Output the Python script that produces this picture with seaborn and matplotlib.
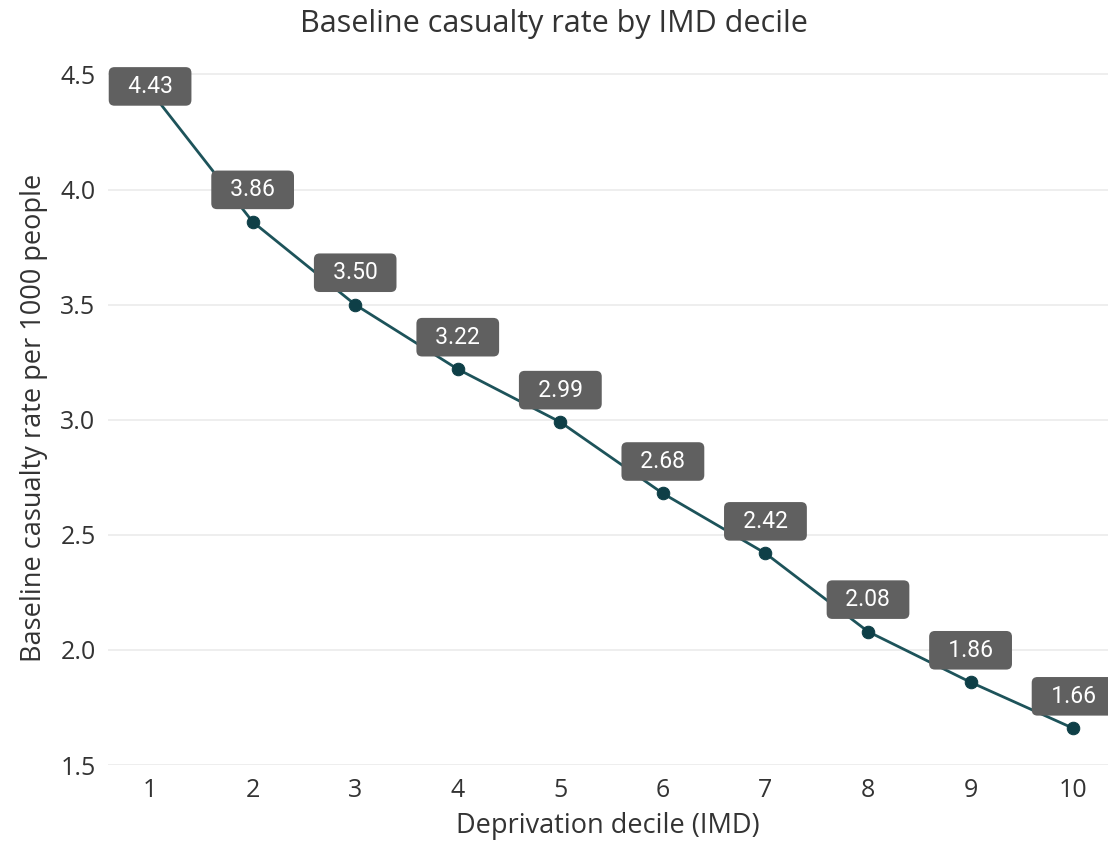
import matplotlib
matplotlib.use("Agg")
import matplotlib.pyplot as plt
import seaborn as sns
import pandas as pd

deciles = [1, 2, 3, 4, 5, 6, 7, 8, 9, 10]
rates = [4.43, 3.86, 3.50, 3.22, 2.99, 2.68, 2.42, 2.08, 1.86, 1.66]
y_ticks = [1.5, 2.0, 2.5, 3.0, 3.5, 4.0, 4.5]

df = pd.DataFrame({"decile": deciles, "rate": rates})

sns.set_theme(style="white")
plt.rcParams["font.family"] = ["Open Sans", "DejaVu Sans"]

text_color = "#333333"
line_color = "#1d535a"
marker_color = "#0e3f47"

fig = plt.figure(figsize=(11.08, 8.52), dpi=100)
ax = fig.add_axes([0.0975, 0.102, 0.9025, 0.816])

sns.lineplot(data=df, x="decile", y="rate", ax=ax, color=line_color,
             linewidth=2.0, marker="o", markersize=9,
             markerfacecolor=marker_color, markeredgecolor=marker_color)

ax.set_xlim(0.59, 10.34)
ax.set_ylim(1.5, 4.52)
ax.set_yticks(y_ticks)
ax.set_yticklabels([f"{t:.1f}" for t in y_ticks])
ax.set_xticks(deciles)
ax.set_xticklabels([str(d) for d in deciles])
ax.tick_params(axis="both", labelsize=18, colors=text_color, length=0, pad=9)
ax.yaxis.grid(True, color="#ebebeb", linewidth=1.2)
ax.xaxis.grid(False)
for s in ax.spines.values():
    s.set_visible(False)

ax.set_xlabel("Deprivation decile (IMD)", fontsize=19.5, color=text_color, labelpad=7)
ax.set_ylabel("Baseline casualty rate per 1000 people", fontsize=19.5,
              color=text_color, labelpad=9)
fig.suptitle("Baseline casualty rate by IMD decile", fontsize=22,
             color=text_color, y=0.99)

# value labels above each point; the top one is kept inside the axes
for x, y in zip(deciles, rates):
    dy = 3 if y > 4.3 else 23
    ax.annotate(f"  {y:.2f}  ", xy=(x, y), xytext=(0, dy), textcoords="offset points",
                ha="center", va="center", fontsize=16.5, color="white",
                family=["Roboto", "DejaVu Sans"], fontweight="normal",
                bbox=dict(boxstyle="round,pad=0.34,rounding_size=0.25",
                          fc="#606060", ec="none"),
                zorder=5)

fig.savefig("out.png", dpi=100)
